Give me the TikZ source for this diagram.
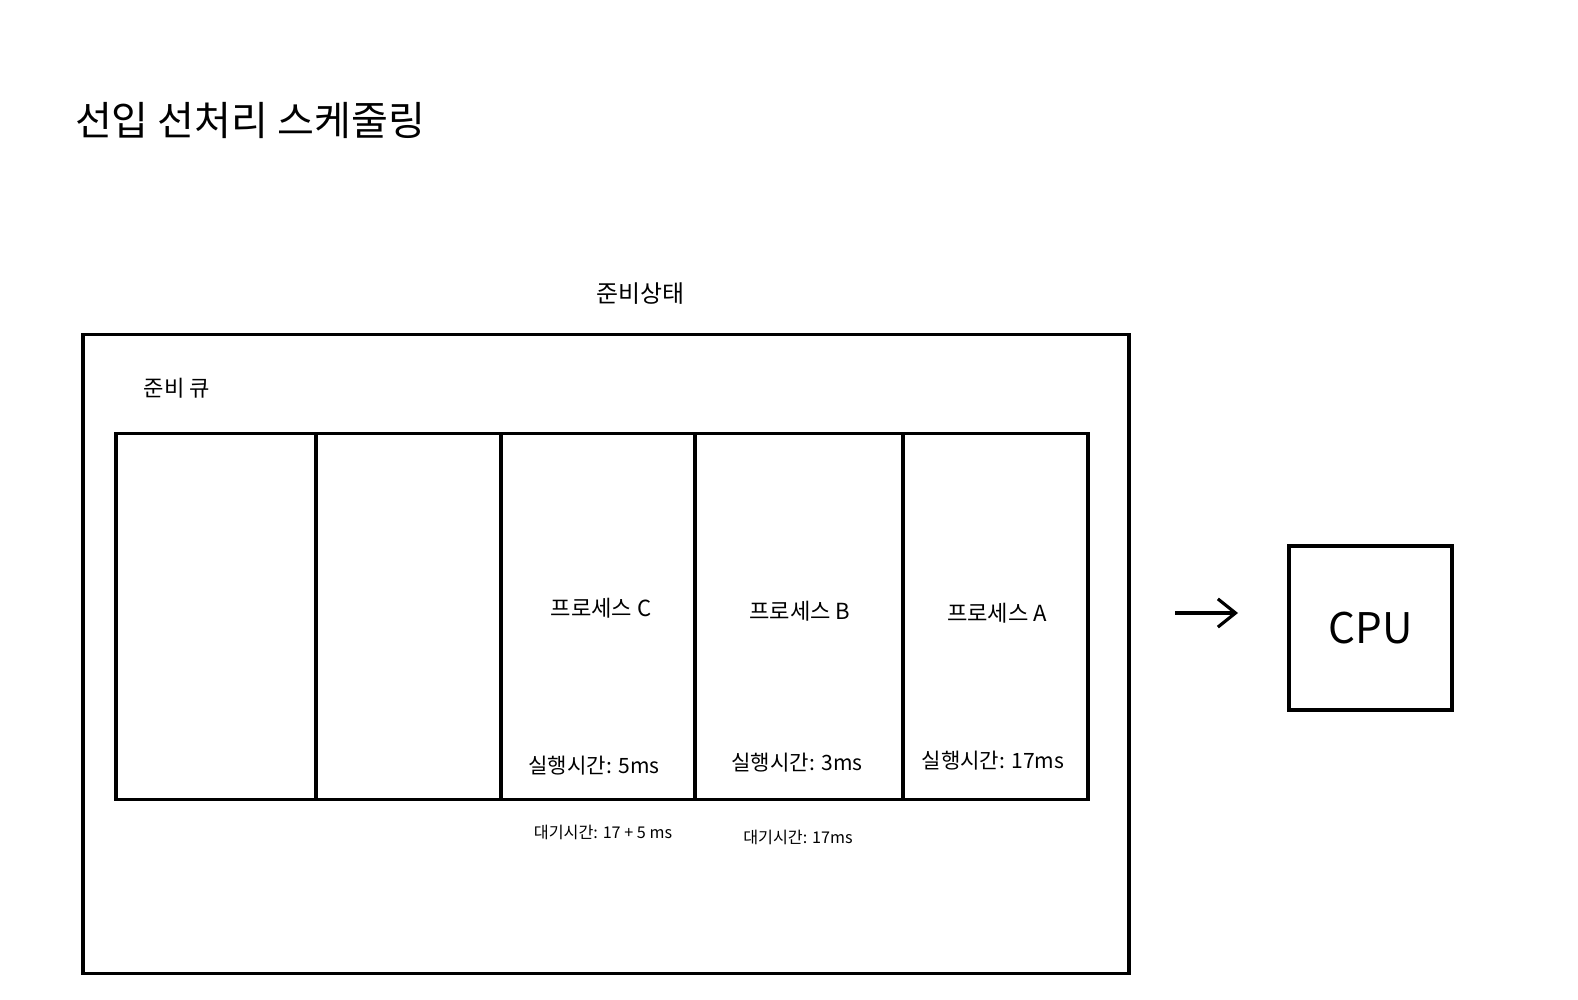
\documentclass[tikz,border=0pt]{standalone}
\usepackage{fontspec}
\setmainfont{Noto Sans CJK KR}
\usetikzlibrary{arrows.meta}
\tikzset{
  box/.style={draw, line width=0.9pt, inner sep=0pt, outer sep=0pt},
  cell/.style={box, minimum height=3.65cm},
  lbl/.style={inner sep=0pt, font=\fontsize{6.3pt}{7pt}\selectfont},
  small/.style={inner sep=0pt, font=\fontsize{4.6pt}{5pt}\selectfont},
  flow/.style={line width=0.9pt, -{Straight Barb[length=5pt, width=8pt, line width=0.9pt]}}
}
\begin{document}
\begin{tikzpicture}[x=0.01cm, y=-0.01cm]
\useasboundingbox (0,0) rectangle (1578,1000);
\node[inner sep=0pt, font=\fontsize{11.4pt}{13pt}\selectfont] (title) at (250,121) {선입 선처리 스케줄링};
\node[lbl, font=\fontsize{6.8pt}{8pt}\selectfont] (state) at (640,294) {준비상태};
\node[box, minimum width=10.455cm, minimum height=6.38cm] (outer) at (606,654) {};
\node[lbl] (qlabel) at (177,388) {준비 큐};
\node[cell, minimum width=2.00cm] (c1) at (216,616.5) {};
\node[cell, minimum width=1.85cm] (c2) at (408.5,616.5) {};
\node[cell, minimum width=1.94cm] (c3) at (598,616.5) {};
\node[cell, minimum width=2.08cm] (c4) at (799,616.5) {};
\node[cell, minimum width=1.85cm] (c5) at (995.5,616.5) {};
\node[lbl] (pc) at (601,608) {프로세스 C};
\node[lbl] (pb) at (800,611) {프로세스 B};
\node[lbl] (pa) at (997,613) {프로세스 A};
\node[lbl, font=\fontsize{6pt}{7pt}\selectfont] (rc) at (594,766) {실행시간: 5ms};
\node[lbl, font=\fontsize{6pt}{7pt}\selectfont] (rb) at (797,763) {실행시간: 3ms};
\node[lbl, font=\fontsize{6pt}{7pt}\selectfont] (ra) at (993,761) {실행시간: 17ms};
\node[small] (wc) at (603,832) {대기시간: 17 + 5 ms};
\node[small] (wb) at (798,837) {대기시간: 17ms};
\node[box, minimum width=1.63cm, minimum height=1.64cm, font=\fontsize{12pt}{14pt}\selectfont] (cpu) at (1370.5,628) {CPU};
\coordinate (from) at (1175,613);
\coordinate (to) at (1238,613);
\draw[flow] (from) -- (to);
\end{tikzpicture}
\end{document}
